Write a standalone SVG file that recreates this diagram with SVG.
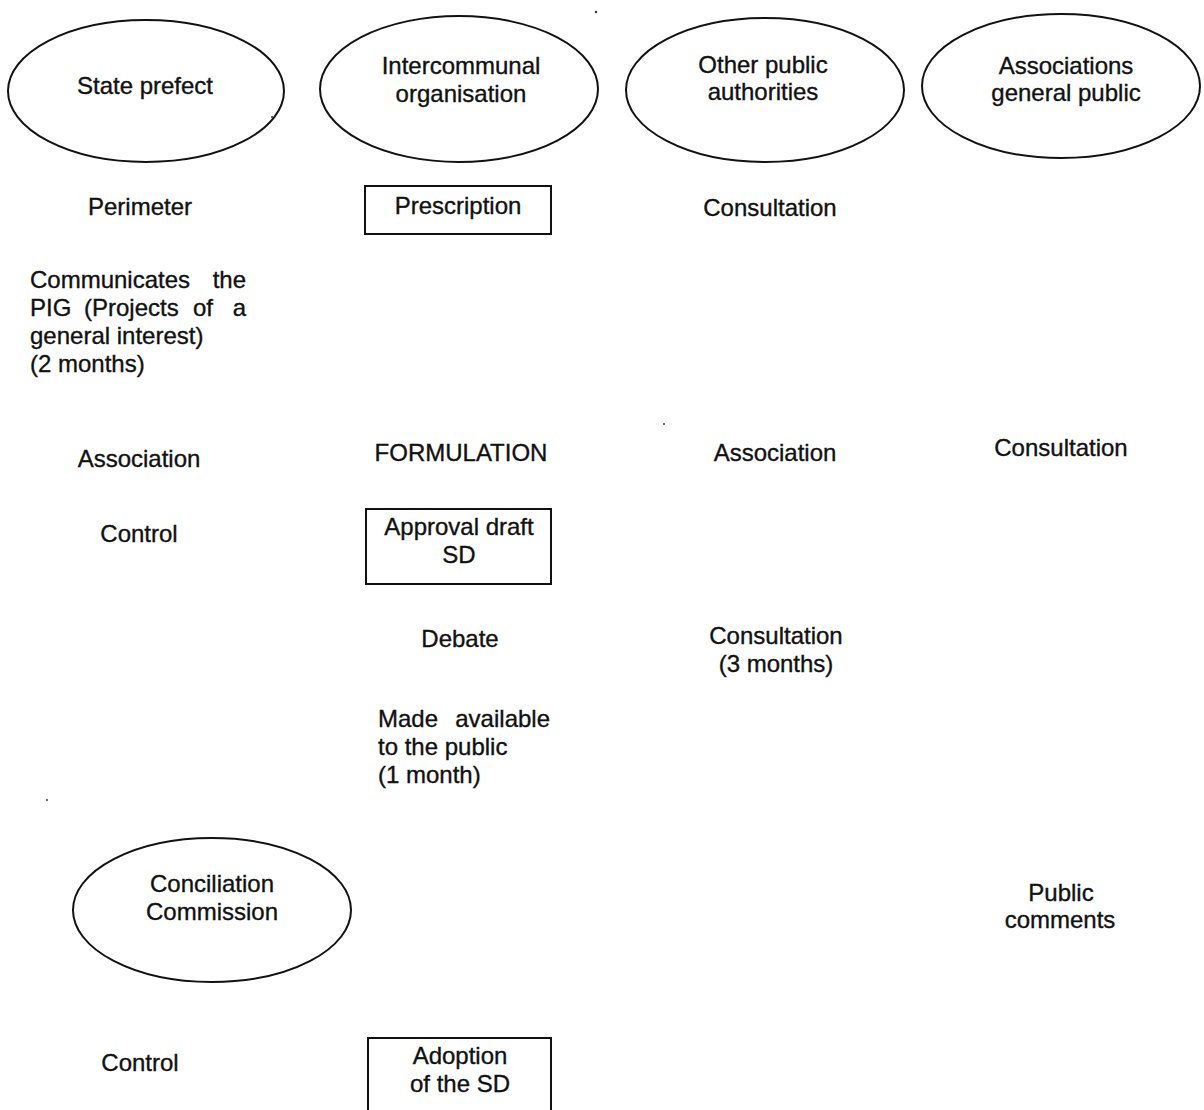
<svg xmlns="http://www.w3.org/2000/svg" width="1204" height="1110" viewBox="0 0 1204 1110">
  <style>
    .bg { fill: #ffffff; }
    .actor { fill: #ffffff; stroke: #111111; stroke-width: 2; }
    .step { fill: #ffffff; stroke: #111111; stroke-width: 2; }
    text { font-family: "Liberation Sans", Arial, Helvetica, sans-serif; font-size: 24px; fill: #111111; stroke: #111111; stroke-width: 0.35; }
    .c { text-anchor: middle; }
    .e { text-anchor: end; }
    .speck { fill: #333333; }
  </style>
  <rect class="bg" x="0" y="0" width="1204" height="1110"/>

  <!-- actors (top row) -->
  <g id="state-prefect">
    <ellipse class="actor" cx="146" cy="91" rx="138" ry="71"/>
    <text class="c" x="145" y="94">State prefect</text>
  </g>
  <g id="intercommunal-organisation">
    <ellipse class="actor" cx="459" cy="89" rx="139" ry="73"/>
    <text class="c" x="461" y="74">Intercommunal</text>
    <text class="c" x="461" y="102">organisation</text>
  </g>
  <g id="other-public-authorities">
    <ellipse class="actor" cx="765" cy="90" rx="139" ry="72"/>
    <text class="c" x="763" y="73">Other public</text>
    <text class="c" x="763" y="100">authorities</text>
  </g>
  <g id="associations-general-public">
    <ellipse class="actor" cx="1061" cy="86" rx="139" ry="72"/>
    <text class="c" x="1066" y="74">Associations</text>
    <text class="c" x="1066" y="101">general public</text>
  </g>

  <!-- row: prescription -->
  <g id="perimeter"><text class="c" x="140" y="215">Perimeter</text></g>
  <g id="prescription">
    <rect class="step" x="365" y="186" width="186" height="48"/>
    <text class="c" x="458" y="214">Prescription</text>
  </g>
  <g id="consultation-opa"><text class="c" x="770" y="216">Consultation</text></g>

  <!-- justified paragraph: words placed one by one -->
  <g id="communicates-pig">
    <text x="30" y="288">Communicates</text>
    <text class="e" x="246" y="288">the</text>
    <text x="30" y="316">PIG</text>
    <text x="84" y="316">(Projects</text>
    <text x="193" y="316">of</text>
    <text class="e" x="246" y="316">a</text>
    <text x="30" y="344">general interest)</text>
    <text x="30" y="372">(2 months)</text>
  </g>

  <!-- row: formulation -->
  <g id="association-prefect"><text class="c" x="139" y="467">Association</text></g>
  <g id="formulation"><text class="c" x="461" y="461">FORMULATION</text></g>
  <g id="association-opa"><text class="c" x="775" y="461">Association</text></g>
  <g id="consultation-public"><text class="c" x="1061" y="456">Consultation</text></g>

  <!-- row: approval -->
  <g id="control-approval"><text class="c" x="139" y="542">Control</text></g>
  <g id="approval-draft-sd">
    <rect class="step" x="366" y="509" width="185" height="75"/>
    <text class="c" x="459" y="535">Approval draft</text>
    <text class="c" x="459" y="563">SD</text>
  </g>
  <g id="debate"><text class="c" x="460" y="647">Debate</text></g>
  <g id="consultation-3-months">
    <text class="c" x="776" y="644">Consultation</text>
    <text class="c" x="776" y="672">(3 months)</text>
  </g>
  <g id="made-available">
    <text x="378" y="727">Made</text>
    <text class="e" x="550" y="727">available</text>
    <text x="378" y="755">to the public</text>
    <text x="378" y="783">(1 month)</text>
  </g>

  <!-- conciliation -->
  <g id="conciliation-commission">
    <ellipse class="actor" cx="212" cy="910" rx="139" ry="72"/>
    <text class="c" x="212" y="892">Conciliation</text>
    <text class="c" x="212" y="920">Commission</text>
  </g>
  <g id="public-comments">
    <text class="c" x="1061" y="901">Public</text>
    <text class="c" x="1060" y="928">comments</text>
  </g>

  <!-- row: adoption -->
  <g id="control-adoption"><text class="c" x="140" y="1071">Control</text></g>
  <g id="adoption-of-the-sd">
    <rect class="step" x="368" y="1038" width="183" height="90"/>
    <text class="c" x="460" y="1064">Adoption</text>
    <text class="c" x="460" y="1092">of the SD</text>
  </g>

  <!-- stray print specks -->
  <g id="specks">
    <circle class="speck" cx="596" cy="12" r="1.2"/>
    <circle class="speck" cx="272" cy="117" r="1"/>
    <circle class="speck" cx="664" cy="424" r="1"/>
    <circle class="speck" cx="47" cy="800" r="1"/>
  </g>

  <!-- no connectors are drawn between the nodes -->
  <g id="connectors"></g>
</svg>
